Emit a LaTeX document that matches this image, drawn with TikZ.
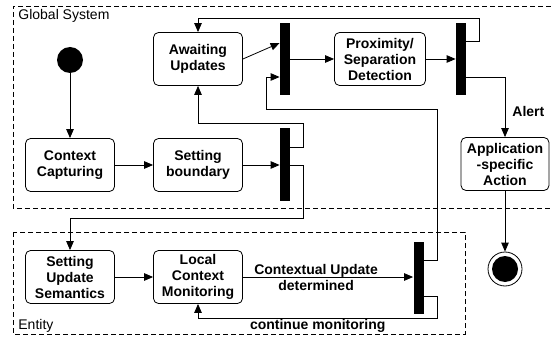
\documentclass[tikz,border=0pt]{standalone}
\usepackage{fontspec}
\setmainfont{Liberation Sans}
\usetikzlibrary{shapes}
\usetikzlibrary{arrows.meta}

\begin{document}
\begin{tikzpicture}[x=1pt,y=-1pt,line width=0.8pt,>={Triangle[length=9pt,width=7.5pt]},
	state/.style={draw,rounded corners=5pt,minimum width=89pt,minimum height=53pt,align=center,inner sep=1pt,font=\fontsize{14}{16}\selectfont\bfseries},
	bar/.style={fill=black,minimum width=10pt,minimum height=72pt,inner sep=0pt},
	frame/.style={dash pattern=on 5pt off 3pt,line width=0.7pt},
	lbl/.style={align=center,inner sep=1pt,font=\fontsize{14}{16}\selectfont\bfseries}
	]
	\useasboundingbox (0,0) rectangle (551,339);
	% frames
	\draw[frame] (551,6) -- (13,6) -- (13,208) -- (551,208);
	\node[anchor=base west,inner sep=0pt,font=\fontsize{14}{16}\selectfont] (gsys) at (18,20) {Global System};
	\draw[frame] (13,232) rectangle (465,334);
	\node[anchor=base west,inner sep=0pt,font=\fontsize{14}{16}\selectfont] (ent) at (18,329) {Entity};
	% states
	\node[circle,fill,minimum size=26pt,inner sep=0pt] (start) at (70,60) {};
	\node[state] (capture) at (70,165) {Context\\Capturing};
	\node[state] (boundary) at (198,165) {Setting\\boundary};
	\node[state] (await) at (198,59) {Awaiting\\Updates};
	\node[bar] (fork1) at (285,59) {};
	\node[state,minimum width=91pt] (detect) at (380,59) {Proximity/\\Separation\\Detection};
	\node[bar] (fork2) at (461,59) {};
	\node[state,minimum width=88pt] (action) at (505,164) {Application\\-specific\\Action};
	\node[circle,draw,minimum size=34pt,inner sep=0pt] (end) at (505,269) {};
	\node[circle,fill,minimum size=26pt,inner sep=0pt] (endin) at (end) {};
	\node[bar,minimum height=73pt] (fork3) at (285,164.5) {};
	\node[state] (semantics) at (70,277) {Setting\\Update\\Semantics};
	\node[state] (monitor) at (198,277) {Local\\Context\\Monitoring};
	\node[bar] (fork4) at (418.5,278) {};
	% transitions
	\draw[->] (start) -- (capture);
	\draw[->] (capture) -- (boundary);
	\draw[->] (boundary.east) -- (fork3.west |- boundary.east);
	\draw[->] (await.east) -- ([yshift=16pt]fork1.west);
	\draw[->] (fork1) -- (detect);
	\draw[->] (detect) -- (fork2);
	\draw[->] ([yshift=18pt]fork2.east) -- ++(13,0) -- ++(0,-23) -| (await.north);
	\draw[->] ([yshift=-18pt]fork2.east) -| (action.north) node[pos=0.79,right=6pt,lbl] (alert) {Alert};
	\draw[->] (action) -- (end);
	\draw[->] ([yshift=17.5pt]fork3.east) -- ++(13,0) -- ++(0,-24) -| (await.south);
	\draw[->] (fork3.east |- boundary.east) -- ++(13,0) -- ++(0,53) -| (semantics.north);
	\draw[->] (semantics) -- (monitor);
	\draw[->] (monitor.east) -- (fork4.west |- monitor.east) node[pos=0.43,lbl] (cud) {Contextual Update\\determined};
	\draw[->] ([yshift=18pt]fork4.east) -| (437,109) -| ([xshift=-13pt,yshift=-18pt]fork1.west) -- ([yshift=-18pt]fork1.west);
	\draw[->] ([yshift=-18pt]fork4.east) -- ++(13.5,0) -- ++(0,22) -| (monitor.south) node[pos=0.25,below=0pt,lbl] (cont) {continue monitoring};
\end{tikzpicture}
\end{document}
